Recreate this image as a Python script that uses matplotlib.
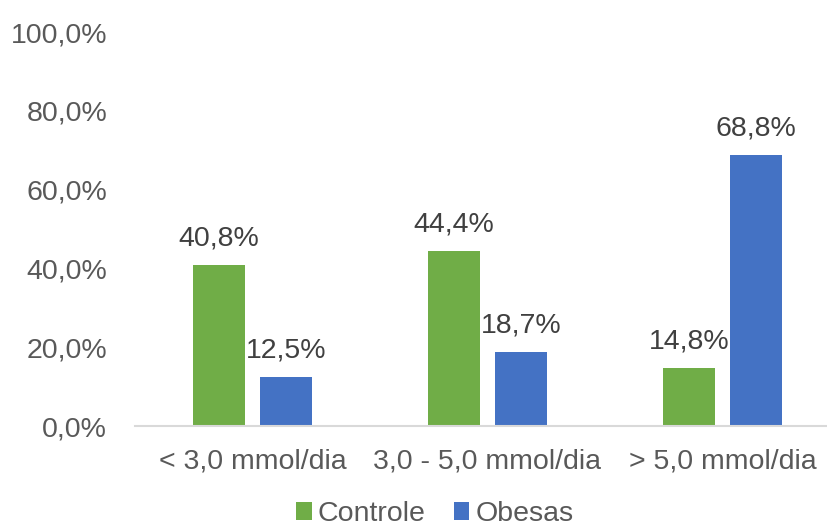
import matplotlib.pyplot as plt
import numpy as np

plt.rcParams['font.family'] = ['Liberation Sans', 'DejaVu Sans']

categorias = ['< 3,0 mmol/dia', '3,0 - 5,0 mmol/dia', '> 5,0 mmol/dia']
controle = [40.8, 44.4, 14.8]
obesas = [12.5, 18.7, 68.8]
series = ['Controle', 'Obesas']
yticks = [0, 20, 40, 60, 80, 100]

verde = '#70AD47'
azul = '#4472C4'
fs = 20.5

fig = plt.figure(figsize=(8.28, 5.29), dpi=100)
ax = fig.add_axes([135 / 828, 1 - 426 / 529, 705 / 828, 394 / 529])

x = np.arange(len(categorias))
w = 0.225
off = 0.1426
b1 = ax.bar(x - off, controle, w, color=verde, label=series[0])
b2 = ax.bar(x + off, obesas, w, color=azul, label=series[1])

for bars, vals in ((b1, controle), (b2, obesas)):
    for b, v in zip(bars, vals):
        ax.annotate(f'{v:.1f}%'.replace('.', ','),
                    (b.get_x() + b.get_width() / 2, v),
                    xytext=(0, 19), textcoords='offset points',
                    ha='center', va='center', fontsize=fs, color='#404040')

ax.set_xlim(-0.5, 2.5)
ax.set_ylim(0, 100)
ax.set_yticks(yticks)
ax.set_yticklabels([f'{t:.1f}%'.replace('.', ',') for t in yticks])
ax.set_xticks(x)
ax.set_xticklabels(categorias)
ax.tick_params(axis='y', length=0, pad=20, labelsize=fs, labelcolor='#595959')
ax.tick_params(axis='x', length=0, pad=16, labelsize=fs, labelcolor='#595959')

for s in ('top', 'right', 'left'):
    ax.spines[s].set_visible(False)
ax.spines['bottom'].set_color('#D9D9D9')
ax.spines['bottom'].set_linewidth(1.5)

leg = fig.legend(handles=[b1, b2], labels=series, loc='center',
                 bbox_to_anchor=(0.525, 1 - 514 / 529), ncol=2, frameon=False,
                 fontsize=fs, handlelength=0.55, handleheight=0.55,
                 handletextpad=0.2, columnspacing=1.0, borderpad=0)
for t in leg.get_texts():
    t.set_color('#595959')

fig.savefig('out.png', dpi=100)
